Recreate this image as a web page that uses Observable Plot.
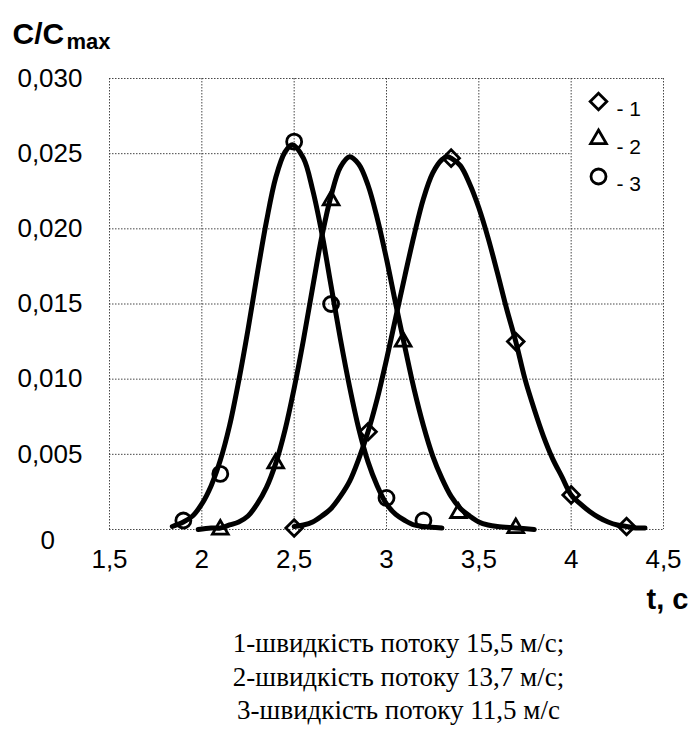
<!DOCTYPE html>
<html><head><meta charset="utf-8">
<script src="https://cdn.jsdelivr.net/npm/d3@7"></script>
<script src="https://cdn.jsdelivr.net/npm/@observablehq/plot@0.6"></script>
<style>
body{margin:0;background:#fff;}
#cap{font-family:"Times New Roman","Liberation Serif",serif;font-size:27px;line-height:33.5px;text-align:center;padding-left:106px;width:585px;color:#000;margin-top:2px;}
</style></head><body>
<div id="chart"></div>
<div id="cap"></div>
<script>
// ---- data ----
const seriesNames = ["1", "2", "3"];
const legendLabels = ["- 1", "- 2", "- 3"];
const xTicks = [1.5, 2, 2.5, 3, 3.5, 4, 4.5];
const yTicks = [0, 0.005, 0.01, 0.015, 0.02, 0.025, 0.03];
const yLabelTicks = [0.005, 0.01, 0.015, 0.02, 0.025, 0.03];
const captionLines = ["1-швидкість потоку 15,5 м/с;", "2-швидкість потоку 13,7 м/с;", "3-швидкість потоку 11,5 м/с"];

// measured points (markers)
const pts1X = [2.5, 2.9, 3.35, 3.7, 4.0, 4.3];
const pts1Y = [0.0001, 0.0065, 0.0247, 0.0125, 0.0023, 0.0002];
const pts2X = [2.1, 2.4, 2.7, 3.09, 3.39, 3.7];
const pts2Y = [0.0000, 0.0044, 0.0219, 0.0125, 0.0011, 0.0001];
const pts3X = [1.9, 2.1, 2.5, 2.7, 3.0, 3.2];
const pts3Y = [0.0006, 0.0037, 0.0258, 0.0150, 0.0021, 0.0006];

// fitted curves
const c1X = [2.5,2.55,2.6,2.65,2.7,2.75,2.8,2.85,2.9,2.95,3.0,3.05,3.1,3.15,3.2,3.25,3.3,3.33,3.35,3.4,3.45,3.5,3.55,3.6,3.65,3.7,3.75,3.8,3.85,3.9,3.95,4.0,4.05,4.1,4.15,4.2,4.25,4.3,4.35,4.4];
const c1Y = [0.0002,0.0003,0.0005,0.0009,0.0014,0.0022,0.0032,0.0047,0.0065,0.0087,0.0113,0.0141,0.0169,0.0196,0.0220,0.0237,0.0246,0.0248,0.0247,0.0242,0.0230,0.0214,0.0194,0.0171,0.0147,0.0125,0.0100,0.0080,0.0062,0.0047,0.0035,0.0023,0.0017,0.0012,0.0008,0.0005,0.0003,0.0002,0.0001,0.0001];
const c2X = [1.98,2.05,2.1,2.15,2.2,2.25,2.3,2.35,2.4,2.45,2.5,2.55,2.6,2.65,2.7,2.75,2.8,2.85,2.9,2.95,3.0,3.05,3.1,3.15,3.2,3.25,3.3,3.35,3.4,3.45,3.5,3.55,3.6,3.7,3.8];
const c2Y = [0.0000,0.0001,0.0001,0.0003,0.0005,0.0009,0.0017,0.0028,0.0044,0.0066,0.0094,0.0126,0.0161,0.0195,0.0222,0.0241,0.0248,0.0243,0.0229,0.0207,0.0180,0.0150,0.0121,0.0093,0.0069,0.0049,0.0034,0.0022,0.0014,0.0009,0.0005,0.0003,0.0002,0.0001,0.0000];
const c3X = [1.84,1.9,1.95,2.0,2.05,2.1,2.15,2.2,2.25,2.3,2.35,2.4,2.45,2.49,2.55,2.6,2.65,2.7,2.75,2.8,2.85,2.9,2.95,3.0,3.05,3.1,3.15,3.2,3.3];
const c3Y = [0.0002,0.0005,0.0009,0.0017,0.0029,0.0046,0.0069,0.0099,0.0133,0.0170,0.0205,0.0234,0.0251,0.0256,0.0247,0.0226,0.0197,0.0162,0.0127,0.0095,0.0067,0.0045,0.0029,0.0017,0.0010,0.0006,0.0003,0.0002,0.0001];

// ---- tables ----
const ptsX = [pts1X, pts2X, pts3X], ptsY = [pts1Y, pts2Y, pts3Y];
const cX = [c1X, c2X, c3X], cY = [c1Y, c2Y, c3Y];
const points = seriesNames.flatMap((s, i) => ptsX[i].map((x, j) => ({s, x, y: ptsY[i][j]})));
const curves = seriesNames.flatMap((s, i) => cX[i].map((x, j) => ({s, x, y: cY[i][j]})));
const comma = d => String(d).replace(".", ",");

const grid = {stroke: "#333", strokeOpacity: 0.9, strokeWidth: 1, strokeDasharray: "1.5,1.5"};
const legendMarks = seriesNames.flatMap((s, i) => [
  Plot.dot([s], {frameAnchor: "top-right", dx: -65, dy: 23 + 37.5 * i, symbol: d => d, r: 7.5, stroke: "#000", strokeWidth: 2.8, fill: "none"}),
  Plot.text([legendLabels[i]], {frameAnchor: "top-right", dx: -47, dy: 23 + 37.5 * i, text: d => d, textAnchor: "start", fontSize: 21})
]);

const chart = Plot.plot({
  width: 691, height: 625,
  marginLeft: 109, marginRight: 28, marginTop: 78, marginBottom: 96,
  x: {domain: [1.5, 4.5], label: null},
  y: {domain: [0, 0.03], label: null},
  symbol: {domain: seriesNames, range: ["diamond2", "triangle2", "circle"]},
  style: {fontFamily: "Arial, 'Liberation Sans', sans-serif", fontSize: "26px", color: "#000", background: "#fff", overflow: "visible"},
  marks: [
    Plot.ruleX(xTicks, {x: d => d, ...grid}),
    Plot.ruleY(yTicks, {y: d => d, x1: 1.5, x2: d => d === 0.025 ? 4 : 4.5, ...grid}),
    Plot.axisX(xTicks, {tickSize: 0, tickPadding: 20, tickFormat: comma, fontSize: 26, label: null}),
    Plot.axisY(yLabelTicks, {tickSize: 0, tickPadding: 27, tickFormat: d => d.toFixed(3).replace(".", ","), fontSize: 26, label: null}),
    Plot.text([0], {y: d => d, frameAnchor: "left", text: () => "0", dx: -69, dy: 11, fontSize: 26}),
    Plot.line(curves, {x: "x", y: "y", z: "s", stroke: "#000", strokeWidth: 5, curve: "catmull-rom"}),
    Plot.dot(points, {x: "x", y: "y", symbol: "s", r: 7.5, stroke: "#000", strokeWidth: 2.8, fill: "none"}),
    ...legendMarks,
    Plot.text(["C/C"], {frameAnchor: "top-left", dx: -97, dy: -56, text: d => d, textAnchor: "start", fontWeight: "bold", fontSize: 30}),
    Plot.text(["max"], {frameAnchor: "top-left", dx: -43, dy: -45, text: d => d, textAnchor: "start", fontWeight: "bold", fontSize: 22}),
    Plot.text(["t, c"], {frameAnchor: "bottom-right", dx: 25, dy: 79, text: d => d, textAnchor: "end", fontWeight: "bold", fontSize: 29})
  ]
});
document.getElementById("chart").appendChild(chart);
document.getElementById("cap").innerHTML = captionLines.map(l => `<div>${l}</div>`).join("");
</script>
</body></html>
